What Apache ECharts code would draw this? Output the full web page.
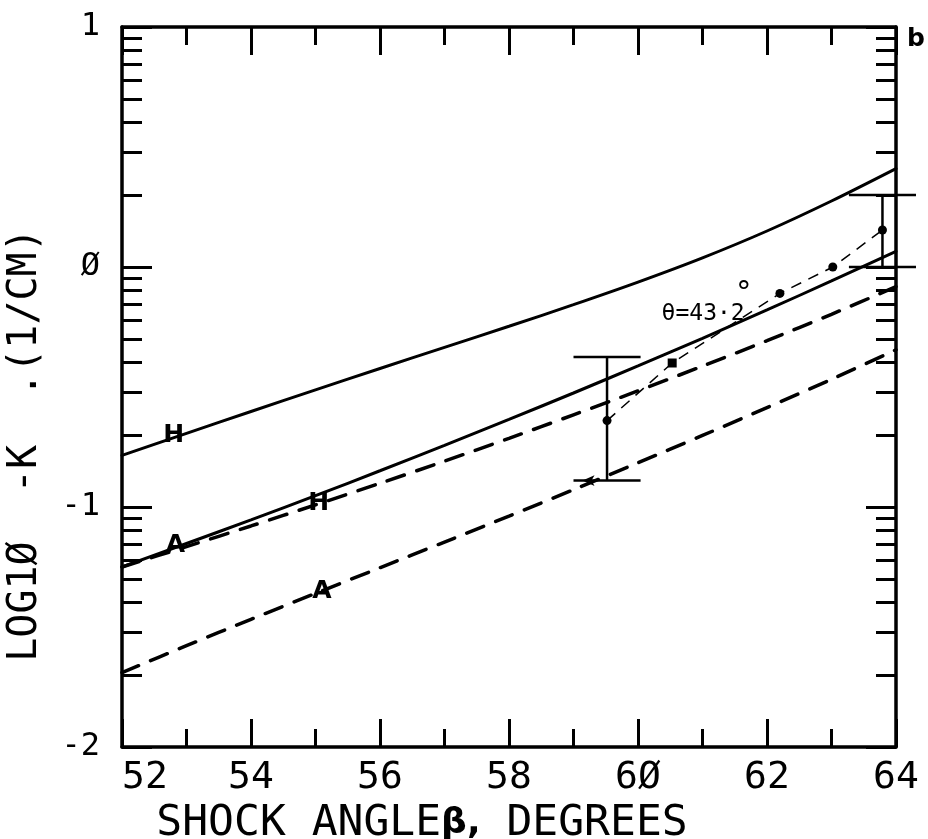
<!DOCTYPE html>
<html>
<head>
<meta charset="utf-8">
<script src="https://cdn.jsdelivr.net/npm/echarts@6/dist/echarts.min.js"></script>
<style>
html,body{margin:0;padding:0;background:#fff;}
#chart{width:928px;height:839px;}
</style>
</head>
<body>
<div id="chart"></div>
<script>
// ---- data ----
const beta = [52, 53, 54, 55, 56, 57, 58, 59, 60, 61, 62, 63, 64];
const solidH  = [-0.785, -0.693, -0.602, -0.512, -0.423, -0.335, -0.247, -0.157, -0.063, 0.038, 0.150, 0.275, 0.41];
const solidA  = [-1.25, -1.152, -1.054, -0.953, -0.849, -0.743, -0.635, -0.525, -0.412, -0.297, -0.179, -0.058, 0.065];
const dashedH = [-1.25, -1.165, -1.079, -0.991, -0.901, -0.809, -0.714, -0.616, -0.516, -0.413, -0.307, -0.197, -0.082];
const dashedA = [-1.69, -1.578, -1.468, -1.36, -1.253, -1.146, -1.038, -0.928, -0.816, -0.702, -0.586, -0.468, -0.345];

const measX = [59.52, 60.53, 62.2, 63.02, 63.79];
const measY = [-0.64, -0.40, -0.11, 0.0, 0.154];
const dotX = [59.52, 62.2, 63.02, 63.79];
const dotY = [-0.64, -0.11, 0.0, 0.154];
const squareX = [60.53];
const squareY = [-0.40];
const arrowX = [59.14];
const arrowY = [-0.89];

const errX = [59.52, 63.79];
const errLow = [-0.89, 0.0];
const errHigh = [-0.375, 0.30];

const curveLabelText = ['H', 'A', 'H', 'A'];
const curveLabelX = [52.8, 52.83, 55.05, 55.1];
const curveLabelY = [-0.70, -1.16, -0.985, -1.353];

const thetaText = 'θ=43·2';
const thetaX = [61.01];
const thetaY = [-0.196];
const degreeX = [61.64];
const degreeY = [-0.082];

const xTickLabels = ['52', '54', '56', '58', '6Ø', '62', '64'];
const yTickLabels = {'-2': '-2', '-1': '-1', '0': 'Ø', '1': '1'};
const minorMult = [2, 3, 4, 5, 6, 7, 8, 9];
const decades = [-2, -1, 0];

// ---- build ----
const yMinor = [];
decades.forEach(d => minorMult.forEach(m => yMinor.push(d + Math.log10(m))));
const pairs = (xs, ys) => xs.map((x, i) => [x, ys[i]]);

const BLACK = '#000';
const MONO = '"DejaVu Sans Mono", monospace';
const capHalf = 0.52;

const axisLineStyle = {color: BLACK, width: 3.5};
const tickLine = {color: BLACK, width: 3};

const xBase = {
  type: 'value', min: 52, max: 64, interval: 2,
  axisLine: {show: true, onZero: false, lineStyle: axisLineStyle},
  axisTick: {show: true, inside: true, length: 28, lineStyle: tickLine},
  minorTick: {show: true, splitNumber: 2, length: 18, lineStyle: tickLine},
  splitLine: {show: false}, minorSplitLine: {show: false}
};
const yBase = {
  type: 'value', min: -2, max: 1, interval: 1,
  axisLine: {show: true, onZero: false, lineStyle: axisLineStyle},
  axisTick: {show: true, inside: true, length: 30, lineStyle: tickLine},
  axisLabel: {show: false},
  splitLine: {show: false}
};
const yMinorAxis = (pos) => ({
  type: 'value', min: -2, max: 1, interval: 1, position: pos,
  axisLine: {show: false},
  axisTick: {show: true, inside: true, length: 20, lineStyle: tickLine, customValues: yMinor},
  axisLabel: {show: false},
  splitLine: {show: false}
});

const curveStyle = (dashed) => ({
  color: BLACK, width: dashed ? 3.5 : 3,
  type: dashed ? [18, 13] : 'solid', cap: 'round'
});

const textSeries = (name, data, labelStyle) => ({
  type: 'scatter', name: name, symbol: 'circle', symbolSize: 1, z: 7,
  itemStyle: {color: 'rgba(0,0,0,0)', opacity: 1},
  emphasis: {disabled: true},
  data: data,
  label: Object.assign({show: true, position: 'inside', formatter: '{b}', color: BLACK, opacity: 1}, labelStyle)
});

const option = {
  animation: false,
  backgroundColor: '#fff',
  title: {
    text: 'b', left: 902, top: 22,
    textStyle: {fontFamily: '"DejaVu Sans", sans-serif', fontWeight: 'bold', fontSize: 25, color: BLACK}
  },
  grid: {left: 122, right: 32, top: 27, bottom: 92, containLabel: false, outerBoundsMode: 'none'},
  xAxis: [
    Object.assign({}, xBase, {
      position: 'bottom',
      axisLabel: {
        show: true, margin: 12, color: BLACK, fontFamily: MONO, fontSize: 38,
        alignMinLabel: 'left',
        formatter: v => xTickLabels[Math.round((v - 52) / 2)]
      },
      name: '{n|SHOCK ANGLE}{b|β,}{n| DEGREES}',
      nameLocation: 'middle', nameGap: 50,
      nameTextStyle: {
        padding: [0, 174, 0, 0],
        rich: {
          n: {fontFamily: MONO, fontSize: 43, color: BLACK},
          b: {fontFamily: '"DejaVu Sans", sans-serif', fontWeight: 'bold', fontSize: 36, color: BLACK}
        }
      }
    }),
    Object.assign({}, xBase, {position: 'top', axisLabel: {show: false}})
  ],
  yAxis: [
    Object.assign({}, yBase, {
      position: 'left',
      axisLabel: {
        show: true, margin: 22, color: BLACK, fontFamily: MONO, fontSize: 32,
        formatter: v => yTickLabels[String(v)]
      },
      name: 'LOG1Ø  -K  .(1/CM)',
      nameLocation: 'middle', nameGap: 76,
      nameTextStyle: {fontFamily: MONO, fontSize: 40, color: BLACK, padding: [0, 116, 0, 0]}
    }),
    yMinorAxis('left'),
    Object.assign({}, yBase, {position: 'right'}),
    yMinorAxis('right')
  ],
  series: [
    {type: 'line', name: 'H (solid)', data: pairs(beta, solidH), smooth: 0.3, symbol: 'none', lineStyle: curveStyle(false), z: 3},
    {type: 'line', name: 'A (solid)', data: pairs(beta, solidA), smooth: 0.3, symbol: 'none', lineStyle: curveStyle(false), z: 3},
    {type: 'line', name: 'H (dashed)', data: pairs(beta, dashedH), smooth: 0.3, symbol: 'none', lineStyle: curveStyle(true), z: 3},
    {type: 'line', name: 'A (dashed)', data: pairs(beta, dashedA), smooth: 0.3, symbol: 'none', lineStyle: curveStyle(true), z: 3},
    {type: 'line', name: 'measured', data: pairs(measX, measY), symbol: 'none',
      lineStyle: {color: BLACK, width: 1.5, type: [11, 8]}, z: 4},
    {type: 'scatter', name: 'dots', data: pairs(dotX, dotY), symbol: 'circle', symbolSize: 9,
      itemStyle: {color: BLACK, opacity: 1}, z: 6},
    {type: 'scatter', name: 'square', data: pairs(squareX, squareY), symbol: 'rect', symbolSize: 9,
      itemStyle: {color: BLACK, opacity: 1}, z: 6},
    {type: 'scatter', name: 'arrow', data: pairs(arrowX, arrowY), symbol: 'arrow', symbolRotate: 90,
      symbolSize: [8, 12], itemStyle: {color: BLACK, opacity: 1}, z: 6},
    {
      type: 'custom', name: 'error bars', clip: false, z: 5,
      data: errX.map((x, i) => [x, errLow[i], errHigh[i]]),
      encode: {x: 0, y: [1, 2]},
      renderItem: function (params, api) {
        const x = api.value(0), lo = api.value(1), hi = api.value(2);
        const pLo = api.coord([x, lo]), pHi = api.coord([x, hi]);
        const l1 = api.coord([x - capHalf, lo]), r1 = api.coord([x + capHalf, lo]);
        const l2 = api.coord([x - capHalf, hi]), r2 = api.coord([x + capHalf, hi]);
        const st = {stroke: BLACK, lineWidth: 2.5};
        return {
          type: 'group',
          children: [
            {type: 'line', shape: {x1: pLo[0], y1: pLo[1], x2: pHi[0], y2: pHi[1]}, style: st},
            {type: 'line', shape: {x1: l1[0], y1: l1[1], x2: r1[0], y2: r1[1]}, style: st},
            {type: 'line', shape: {x1: l2[0], y1: l2[1], x2: r2[0], y2: r2[1]}, style: st}
          ]
        };
      }
    },
    textSeries('curve labels',
      curveLabelText.map((t, i) => ({name: t, value: [curveLabelX[i], curveLabelY[i]]})),
      {fontFamily: '"DejaVu Sans", sans-serif', fontWeight: 'bold', fontSize: 25}),
    textSeries('theta label',
      pairs(thetaX, thetaY).map(v => ({name: thetaText, value: v})),
      {fontFamily: MONO, fontSize: 23}),
    textSeries('degree',
      pairs(degreeX, degreeY).map(v => ({name: '°', value: v})),
      {fontFamily: MONO, fontSize: 30, offset: [0, 8]})
  ]
};

const chart = echarts.init(document.getElementById('chart'), null, {renderer: 'canvas'});
chart.setOption(option);
</script>
</body>
</html>
